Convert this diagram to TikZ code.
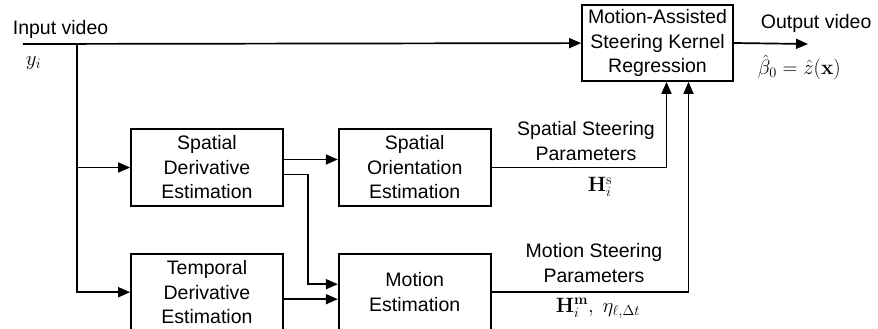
\documentclass[tikz,border=0pt]{standalone}
\usepackage[no-math]{fontspec}
\setmainfont{Liberation Sans}
\usepackage{amsmath, amssymb}
\usepackage{bm}
\usetikzlibrary{calc,arrows.meta,positioning}

\tikzset{
  blk/.style={draw, rectangle, minimum width=152pt, minimum height=77pt, align=center, inner sep=2pt},
  lbl/.style={align=center, inner sep=2pt},
}

\begin{document}
\begin{tikzpicture}[x=1pt, y=-1pt, line width=1.7pt, node distance=54pt,
    font=\fontsize{19.5}{24.5}\selectfont,
    >={Triangle[length=12pt,width=10pt]}]
    \useasboundingbox (0,0) rectangle (878,329);
    \coordinate (in) at (23,44);
    \coordinate (split) at (77,44);
    \node[blk, minimum width=151pt, minimum height=76pt] (maskr) at (657.5,43) {Motion-Assisted\\Steering Kernel\\Regression};
    \node[blk] (sd) at (207,167.5) {Spatial\\Derivative\\Estimation};
    \node[blk, right=of sd] (so) {Spatial\\Orientation\\Estimation};
    \node[blk, below=46pt of sd] (td) {Temporal\\Derivative\\Estimation};
    \node[blk, right=of td] (me) {Motion\\Estimation};
    \coordinate (out) at (808,44);

    % input and output
    \node[lbl, anchor=south west, inner sep=0pt] (inlbl) at (12,39) {Input video};
    \node[lbl, anchor=north west, inner sep=0pt] (yi) at (25,56) {$y_i$};
    \draw[->] (in) -- (maskr);
    \draw[->] (maskr.east) -- (out);
    \node[lbl, anchor=south west, inner sep=0pt] (outlbl) at (760,33) {Output video};
    \node[lbl, anchor=north west, inner sep=0pt] (beta) at (757,54) {$\hat{\beta}_0 = \hat{z}(\mathbf{x})$};

    % derivatives
    \draw[->] (split) |- (sd);
    \draw[->] (split) |- (td);
    \draw[->] ([yshift=8pt]sd.east) -- ([yshift=8pt]so.west);
    \draw[->] ([yshift=-7pt]sd.east) -- ++(24,0) |- ([yshift=8pt]me.west);
    \draw[->] ([yshift=-7pt]td.east) -- ([yshift=-7pt]me.west);

    % steering parameters
    \draw[->] (so.east) -| node[lbl, pos=0.27, above=4pt] {Spatial Steering\\Parameters}
        node[lbl, pos=0.31, below=7pt] {$\mathbf{H}_i^{\mathrm{s}}$} ([xshift=9pt]maskr.south);
    \draw[->] (me.east) -| node[lbl, pos=0.26, above=7pt] {Motion Steering\\Parameters}
        node[lbl, pos=0.27, below=3pt] {$\mathbf{H}_i^{\mathbf{m}},\ \eta_{\ell,\Delta t}$} ([xshift=31pt]maskr.south);
\end{tikzpicture}
\end{document}
